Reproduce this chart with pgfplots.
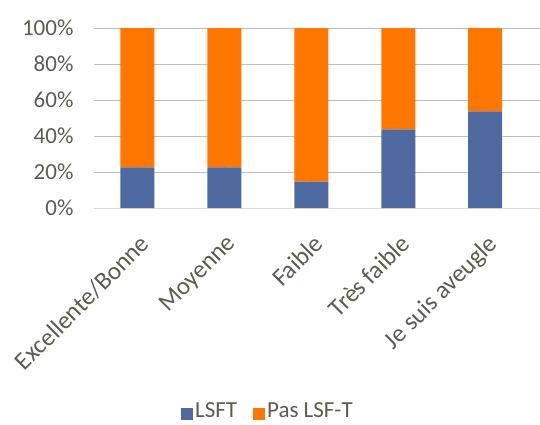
\documentclass[border=0pt]{standalone}
\usepackage{pgfplots}
\pgfplotsset{compat=1.18}
\usepackage{fontspec}
\setmainfont{Carlito}
\definecolor{lsft}{RGB}{78,106,160}
\definecolor{pas}{RGB}{255,118,0}
\definecolor{txt}{RGB}{92,92,80}
\definecolor{grid}{RGB}{222,222,196}
\begin{document}
\begin{tikzpicture}
\useasboundingbox (-94pt,-216pt) rectangle (446pt,208pt);
\begin{axis}[
  at={(0,0)}, anchor=south west,
  scale only axis, width=446pt, height=180pt,
  ybar stacked, bar width=34pt,
  xmin=-0.5, xmax=4.63, ymin=0, ymax=100,
  xtick={0,1,2,3,4},
  xticklabels={Excellente/Bonne,Moyenne,Faible,Très faible,Je suis aveugle},
  xticklabel style={xshift=1pt, yshift=-25pt, rotate=45, anchor=north east, font=\fontsize{25}{27}\selectfont, text=txt, inner sep=0pt},
  ytick={0,20,40,60,80,100},
  yticklabel={\pgfmathprintnumber{\tick}\%},
  yticklabel style={font=\fontsize{23}{25}\selectfont, text=txt, xshift=-17pt},
  /pgf/number format/assume math mode=true,
  major tick length=0pt,
  ymajorgrids, grid style={grid, line width=1pt},
  axis x line*=bottom, axis y line*=left,
  x axis line style={grid, line width=1pt, -},
  y axis line style={draw=none},
  legend style={at={(0.39,-1.125)}, anchor=center, draw=none, legend columns=2,
    font=\fontsize{23}{25}\selectfont, text=txt,
    /tikz/every even column/.append style={column sep=14pt}},
  legend image code/.code={\fill[#1] (0pt,-9pt) rectangle (12pt,3pt);},
  clip=false,
]
\addplot[fill=lsft, draw=none] coordinates {(0,22.6) (1,22.6) (2,14.6) (3,43.7) (4,53.7)};
\addplot[fill=pas, draw=none] coordinates {(0,77.4) (1,77.4) (2,85.4) (3,56.3) (4,46.3)};
\legend{LSFT, Pas LSF-T}
\end{axis}
\end{tikzpicture}
\end{document}
